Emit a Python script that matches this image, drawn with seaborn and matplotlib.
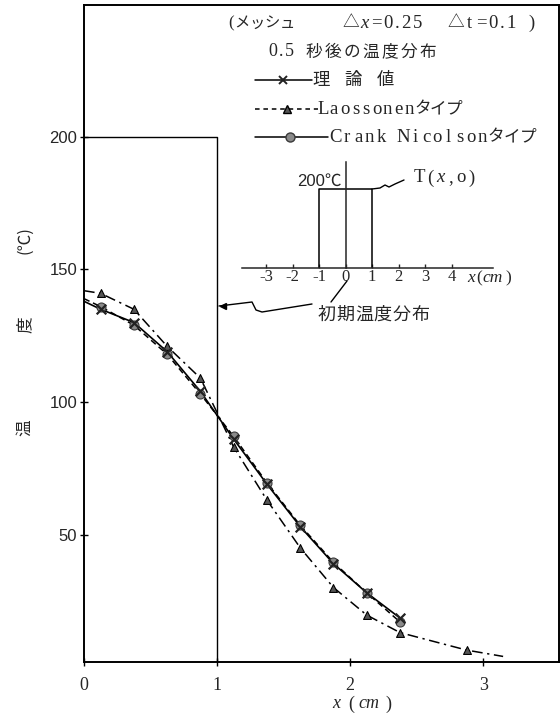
import matplotlib
matplotlib.use("Agg")
import matplotlib.pyplot as plt
import seaborn as sns
import pandas as pd
from matplotlib.lines import Line2D

# ---------------- data ----------------
x_nodes = [0.125, 0.375, 0.625, 0.875, 1.125, 1.375, 1.625, 1.875, 2.125, 2.375]
theory_T = [135, 130, 119, 104, 86, 69, 53, 39, 28, 18.5]
cn_T = [136, 129, 118, 103, 87, 69.5, 53.5, 39.5, 28, 17]
laas_x = [0.125, 0.375, 0.625, 0.875, 1.125, 1.375, 1.625, 1.875, 2.125, 2.375, 2.875]
laas_T = [141, 135, 121, 109, 83, 63, 45, 30, 19.6, 13, 6.4]
theory_start_T = 138
cn_start_T = 139
laas_start_T = 142
laas_end_x = 3.15
laas_end_T = 4
init_x = [0, 1, 1]
init_T = [200, 200, 0]
inset_x = [-1, -1, 1, 1]
inset_T = [0, 200, 200, 0]
inset_ticks = [-3, -2, -1, 0, 1, 2, 3, 4]
y_ticks = [50, 100, 150, 200]
x_ticks = [0, 1, 2, 3]

sns.set_style("ticks")
plt.rcParams["font.family"] = ["Liberation Serif", "Noto Sans CJK JP", "DejaVu Sans"]
plt.rcParams["mathtext.fontset"] = "stix"

W, H = 560, 716
fig = plt.figure(figsize=(W / 100, H / 100), dpi=100)


def fx(px):
    return px / W


def fy(py):
    return 1 - py / H


SERIF = ["Liberation Serif", "Noto Sans CJK JP", "DejaVu Sans"]
JP = ["Noto Sans CJK JP", "DejaVu Sans"]
SANS = ["Liberation Sans", "Noto Sans CJK JP", "DejaVu Sans"]


def is_wide(ch):
    return ord(ch) >= 0x2000


def spaced(x, y, s, adv, wide_adv, size, italic="", wide_size=None):
    """Place text glyph by glyph with fixed advances (typewriter-like setting)."""
    cx = x
    for ch in s:
        wide = is_wide(ch)
        a = wide_adv if wide else (adv * 0.6 if ch in ".,()" else adv)
        if ch not in (" ", "\u3000"):
            fig.text(fx(cx + a / 2), fy(y), ch,
                     fontfamily=JP if wide else SERIF,
                     fontsize=(wide_size or size) if wide else size,
                     style="italic" if ch in italic else "normal",
                     ha="center", va="center")
        cx += a


# ---------------- main axes ----------------
ax = fig.add_axes([fx(84), fy(662), (559 - 84) / W, (662 - 5) / H])

df_init = pd.DataFrame({"x": init_x, "T": init_T})
sns.lineplot(data=df_init, x="x", y="T", ax=ax, color="k", lw=1.0, sort=False,
             estimator=None)

df_th = pd.DataFrame({"x": [0] + x_nodes, "T": [theory_start_T] + theory_T})
sns.lineplot(data=df_th, x="x", y="T", ax=ax, color="k", lw=1.2, sort=False,
             estimator=None)

df_cn = pd.DataFrame({"x": [0] + x_nodes, "T": [cn_start_T] + cn_T})
sns.lineplot(data=df_cn, x="x", y="T", ax=ax, color="k", lw=1.1, sort=False,
             estimator=None, linestyle=(0, (4, 2.5)))

df_la = pd.DataFrame({"x": [0] + laas_x + [laas_end_x],
                      "T": [laas_start_T] + laas_T + [laas_end_T]})
sns.lineplot(data=df_la, x="x", y="T", ax=ax, color="k", lw=1.1, sort=False,
             estimator=None, linestyle=(0, (7, 3, 1.5, 3)))

sns.scatterplot(x=x_nodes, y=cn_T, ax=ax, marker="o", s=42, color="#8a8a8a",
                edgecolor="#3a3a3a", linewidth=0.8, zorder=5)
sns.scatterplot(x=x_nodes, y=theory_T, ax=ax, marker="x", s=48, color="#222222",
                linewidth=1.6, zorder=6)
sns.scatterplot(x=laas_x, y=laas_T, ax=ax, marker="^", s=32, color="#555555",
                edgecolor="k", linewidth=0.8, zorder=5)

ax.set_xlim(0, 3.57)
ax.set_ylim(1.9, 249.8)
ax.set_xticks(x_ticks)
ax.set_yticks(y_ticks)
ax.set_xticklabels([str(v) for v in x_ticks], fontfamily=SERIF, fontsize=13)
ax.set_yticklabels([str(v) for v in y_ticks], fontfamily=SANS, fontsize=12)
ax.tick_params(axis="both", direction="inout", length=6, width=1.0, color="k")
ax.tick_params(axis="x", pad=8)
ax.tick_params(axis="y", pad=2)
ax.set_xlabel("")
ax.set_ylabel("")
for sp in ax.spines.values():
    sp.set_visible(True)
    sp.set_linewidth(1.4)
    sp.set_color("k")

# axis titles
fig.text(fx(336), fy(704), "x", fontfamily=SERIF, style="italic", fontsize=13,
         ha="center", va="center")
fig.text(fx(351), fy(704), "(", fontfamily=SERIF, fontsize=13,
         ha="center", va="center")
fig.text(fx(369), fy(704), "cm", fontfamily=SERIF, style="italic", fontsize=13,
         ha="center", va="center")
fig.text(fx(388), fy(704), ")", fontfamily=SERIF, fontsize=13,
         ha="center", va="center")
fig.text(fx(25), fy(428), "温", fontfamily=JP, fontsize=12, rotation=90,
         ha="center", va="center")
fig.text(fx(25), fy(325), "度", fontfamily=JP, fontsize=12, rotation=90,
         ha="center", va="center")
fig.text(fx(25), fy(240), "(℃)", fontfamily=JP, fontsize=12, rotation=90,
         ha="center", va="center")

# ---------------- legend block ----------------
spaced(228, 23, "(メッシュ", 11, 15, 12, wide_size=11)
spaced(343, 23, "△x=0.25", 11.5, 16, 13.5, italic="x", wide_size=12)
spaced(448, 23, "△t=0.1", 11.5, 16, 13.5, wide_size=12)
spaced(528, 23, ")", 12, 16, 13.5)
spaced(268, 52, "0.5 秒後の温度分布", 10, 19, 13, wide_size=12)

rows = [
    (80, 255, 312, "-", "x", 283),
    (109, 255, 318, (0, (3, 2.5)), "^", 287),
    (137, 255, 328, "-", "o", 290),
]
for y, x0, x1, ls, mk, xm in rows:
    fig.add_artist(Line2D([fx(x0), fx(x1)], [fy(y), fy(y)], color="k", lw=1.1,
                          linestyle=ls, transform=fig.transFigure))
    if mk == "x":
        fig.add_artist(Line2D([fx(xm)], [fy(y)], marker="x", markersize=6,
                              mew=1.4, color="#222222", transform=fig.transFigure))
    elif mk == "^":
        fig.add_artist(Line2D([fx(xm)], [fy(y)], marker="^", markersize=6,
                              mfc="#555555", mec="k", transform=fig.transFigure))
    else:
        fig.add_artist(Line2D([fx(xm)], [fy(y)], marker="o", markersize=6.5,
                              mfc="#8a8a8a", mec="#3a3a3a", transform=fig.transFigure))
spaced(313, 80, "理　論　値", 10, 16, 13, wide_size=12.5)
spaced(318, 109, "Laossonenタイプ", 10.7, 16, 13.5, wide_size=12)
spaced(330, 137, "Crank Nicolsonタイプ", 11.3, 16, 13.5, wide_size=12)

# ---------------- inset: initial temperature distribution ----------------
axi = fig.add_axes([fx(242), fy(268), (493 - 242) / W, (268 - 162) / H])
axi.patch.set_visible(False)
sns.lineplot(x=inset_x, y=inset_T, ax=axi, color="k", lw=1.1, sort=False,
             estimator=None)
axi.set_xlim(-3.906, 5.566)
axi.set_ylim(0, 268)
axi.spines["top"].set_visible(False)
axi.spines["right"].set_visible(False)
axi.spines["left"].set_position(("data", 0))
axi.spines["left"].set_linewidth(1.1)
axi.spines["bottom"].set_linewidth(1.1)
axi.set_yticks([])
axi.set_xticks(inset_ticks)
axi.set_xticklabels(["-3", "-2", "-1", "0", "1", "2", "3", "4"],
                    fontfamily=SERIF, fontsize=12)
axi.tick_params(axis="x", direction="in", length=3, width=1, pad=1)
axi.set_xlabel("")
axi.set_ylabel("")
fig.text(fx(471), fy(278), "x", fontfamily=SERIF, style="italic", fontsize=12.5,
         ha="center", va="center")
fig.text(fx(479), fy(278), "(", fontfamily=SERIF, fontsize=12.5,
         ha="center", va="center")
fig.text(fx(493), fy(278), "cm", fontfamily=SERIF, style="italic", fontsize=12.5,
         ha="center", va="center")
fig.text(fx(508), fy(278), ")", fontfamily=SERIF, fontsize=12.5,
         ha="center", va="center")
axi.text(-0.15, 218, "200℃", fontfamily=SANS, fontsize=12, ha="right",
         va="center")
spaced(413, 178, "T(x,o)", 13, 16, 13.5, italic="x")

# leader lines
wave = [(372, 189), (380, 188), (385, 185), (389, 187), (395, 184), (404, 180)]
fig.add_artist(Line2D([fx(p[0]) for p in wave], [fy(p[1]) for p in wave],
                      color="k", lw=1.0, transform=fig.transFigure))
zig = [(219, 306), (252, 302), (256, 310), (262, 312), (312, 304)]
fig.add_artist(Line2D([fx(p[0]) for p in zig], [fy(p[1]) for p in zig],
                      color="k", lw=1.0, transform=fig.transFigure))
fig.add_artist(Line2D([fx(223)], [fy(305.5)], marker="<", markersize=5,
                      color="k", transform=fig.transFigure))
fig.add_artist(Line2D([fx(331), fx(347)], [fy(302), fy(281)], color="k", lw=1.0,
                      transform=fig.transFigure))
spaced(317, 315, "初期温度分布", 10, 18.8, 13, wide_size=13)

fig.savefig("out.png", dpi=100)
